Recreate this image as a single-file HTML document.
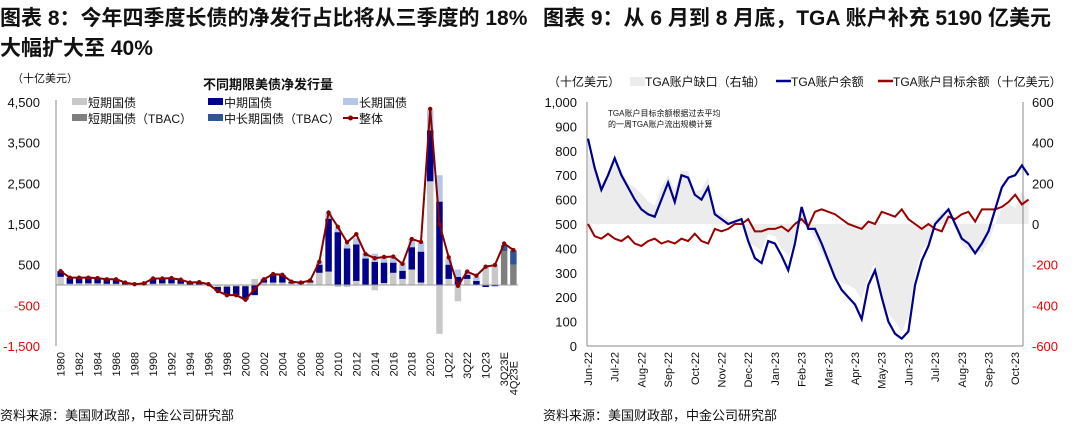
<!DOCTYPE html>
<html><head><meta charset="utf-8"><style>
body{margin:0;background:#fff;}
svg{display:block;font-family:"Liberation Sans","Noto Sans CJK SC",sans-serif;}
</style></head><body>
<svg id="s" width="1080" height="433" viewBox="0 0 1080 433">
<text x="0" y="25" font-size="21" font-weight="bold" fill="#111">图表 8：今年四季度长债的净发行占比将从三季度的 18%</text>
<text x="0" y="55" font-size="21" font-weight="bold" fill="#111">大幅扩大至 40%</text>
<text x="543" y="25" font-size="21" font-weight="bold" fill="#111">图表 9：从 6 月到 8 月底，TGA 账户补充 5190 亿美元</text>
<text x="0" y="420" font-size="13" fill="#111">资料来源：美国财政部，中金公司研究部</text>
<text x="543" y="420" font-size="13" fill="#111">资料来源：美国财政部，中金公司研究部</text>
<g id="left"></g>
<g id="right"></g>
</svg>
<script>
// ---------- Chart 8 data ----------
const cats8 = [];
for (let y=1980;y<=2021;y++) cats8.push(String(y));
cats8.push('1Q22','2Q22','3Q22','4Q22','1Q23','2Q23','3Q23E','4Q23E');
const bills = [200,30,40,40,40,30,30,10,-10,0,30,40,40,30,10,10,0,-50,-40,-30,-30,150,60,60,60,40,30,60,300,330,-50,-50,100,-20,-130,50,300,150,380,60,2550,-1200,150,-400,150,0,450,500,0,0];
const notes = [140,150,140,140,130,110,110,50,30,40,130,120,130,100,50,60,20,-100,-210,-220,-330,-250,80,210,190,40,30,50,200,1300,1300,900,900,650,570,500,250,200,550,760,1250,2050,350,200,100,100,-50,-30,0,0];
const longs = [0,0,0,0,0,0,0,0,0,0,0,0,0,0,0,0,0,0,0,0,0,0,0,0,0,0,0,0,70,150,100,100,150,130,200,150,150,200,200,230,500,650,150,180,80,100,0,0,0,0];
const tbacShort = [0,0,0,0,0,0,0,0,0,0,0,0,0,0,0,0,0,0,0,0,0,0,0,0,0,0,0,0,0,0,0,0,0,0,0,0,0,0,0,0,0,0,0,0,0,0,0,0,830,500];
const tbacLong = [0,0,0,0,0,0,0,0,0,0,0,0,0,0,0,0,0,0,0,0,0,0,0,0,0,0,0,0,0,0,0,0,0,0,0,0,0,0,0,0,0,0,0,0,0,0,0,0,150,350];
const total8 = [340,180,180,180,170,140,140,60,20,40,160,160,170,130,60,70,20,-150,-250,-250,-360,-100,140,270,250,80,60,110,570,1780,1430,1050,1250,760,660,690,700,520,1130,1060,4330,1500,680,-20,330,230,450,490,1020,860];
const yTicks8 = [4500,3500,2500,1500,500,-500,-1500];
const yTickLabels8 = ['4,500','3,500','2,500','1,500','500','-500','-1,500'];

// ---------- Chart 9 data ----------
const months9 = ['Jun-22','Jul-22','Aug-22','Sep-22','Oct-22','Nov-22','Dec-22','Jan-23','Feb-23','Mar-23','Apr-23','May-23','Jun-23','Jul-23','Aug-23','Sep-23','Oct-23'];
const balance9 = [850,730,640,700, 770,700,650,600, 560,540,530,600, 670,590,700,690, 620,600,650,540, 520,500,510,520, 430,360,340,430, 420,370,310,420, 570,480,480,420, 350,280,230,200, 170,110,250,310, 200,100,50,30, 60,250,350,410, 500,530,560,500, 440,420,380,420, 470,560,650,690, 700,740,700];
const target9 = [500,450,440,460, 440,430,450,420, 410,430,440,420, 430,420,440,430, 460,430,420,480, 470,480,500,500, 520,470,470,480, 480,490,470,500, 520,490,550,560, 550,540,520,500, 490,480,510,500, 550,540,530,560, 520,500,480,500, 480,470,530,520, 540,550,510,560, 560,560,570,590, 620,580,600];
const gap9 = [350,280,200,240, 330,270,200,180, 150,110,90,180, 240,170,260,260, 160,170,230,60, 50,20,10,20, -90,-110,-130,-50, -60,-120,-160,-80, 50,-10,-70,-140, -200,-260,-290,-300, -320,-370,-260,-190, -350,-440,-480,-530, -460,-250,-130,-90, 20,60,30,-20, -100,-130,-130,-140, -90,0,80,100, 80,160,100];
const yTicksL9 = [0,100,200,300,400,500,600,700,800,900,1000];
const yTickLabelsL9 = ['0','100','200','300','400','500','600','700','800','900','1,000'];
const yTicksR9 = [600,400,200,0,-200,-400,-600];

const NS='http://www.w3.org/2000/svg';
function mk(parent,tag,attrs){const e=document.createElementNS(NS,tag);for(const k in attrs)e.setAttribute(k,attrs[k]);parent.appendChild(e);return e;}

// ---------- draw chart 8 ----------
(function(){
const g=document.getElementById('left');
const x0=56,x1=518,yTop=102,yBot=346;
const y=v=>yTop+(4500-v)/6000*(yBot-yTop);
const bw=(x1-x0)/cats8.length;
const xc=i=>x0+bw*(i+0.5);
yTicks8.forEach((t,i)=>{
  const tx=mk(g,'text',{x:40,y:y(t)+5,'font-size':13,'text-anchor':'end',fill:t<0?'#e00':'#111'});
  tx.textContent=yTickLabels8[i];
  
  
});
const ax=mk(g,'line',{x1:x0,y1:yTop-2,x2:x0,y2:yBot,stroke:'#888','stroke-width':1});


const series=[[bills,'#c8c8c8'],[notes,'#00008b'],[longs,'#b4c7e7'],[tbacShort,'#7f7f7f'],[tbacLong,'#2f5597']];
cats8.forEach((c,i)=>{
  let pos=0,neg=0;
  series.forEach(([arr,col])=>{
    const v=arr[i]; if(!v) return;
    let a,b;
    if(v>0){a=pos;b=pos+v;pos=b;}else{a=neg+v;b=neg;neg=a;}
    const r=mk(g,'rect',{x:xc(i)-bw*0.35,y:y(b),width:bw*0.7,height:Math.max(0.5,y(a)-y(b)),fill:col});
    
    
  });
  if(i%2===0||i===cats8.length-1){
    const tx=mk(g,'text',{x:0,y:0,'font-size':11,'text-anchor':'end',fill:'#111',transform:`translate(${xc(i)+4},${i===cats8.length-1?361:352}) rotate(-90)`});
    tx.textContent=c;
    
    
  }
});
const zl=mk(g,'line',{x1:x0,y1:y(0),x2:x1,y2:y(0),stroke:'#999','stroke-width':1});


const pl=mk(g,'polyline',{points:total8.map((v,i)=>xc(i)+','+y(v)).join(' '),fill:'none',stroke:'#8b0000','stroke-width':2});


total8.forEach((v,i)=>{
  const c=mk(g,'circle',{cx:xc(i),cy:y(v),r:2.2,fill:'#8b0000'});
  
  
});
const u=mk(g,'text',{x:12,y:82,'font-size':11,fill:'#111'});u.textContent='（十亿美元）';


const t=mk(g,'text',{x:268,y:89,'font-size':13,'font-weight':'bold','text-anchor':'middle',fill:'#111'});t.textContent='不同期限美债净发行量';


const leg=[['短期国债','#c8c8c8',72,102,0],['中期国债','#00008b',208,102,0],['长期国债','#b4c7e7',343,102,0],['短期国债（TBAC）','#7f7f7f',72,118,0],['中长期国债（TBAC）','#2f5597',208,118,0],['整体','#8b0000',343,118,1]];
leg.forEach(([n,col,lx,ly,isLine])=>{
  if(isLine){mk(g,'line',{x1:lx,y1:ly,x2:lx+15,y2:ly,stroke:col,'stroke-width':2});mk(g,'circle',{cx:lx+7.5,cy:ly,r:2.5,fill:col});}
  else mk(g,'rect',{x:lx,y:ly-4,width:15,height:7,fill:col});
  const tx=mk(g,'text',{x:lx+16,y:ly+5,'font-size':12,fill:'#111'});tx.textContent=n;
  
  
});
})();

// ---------- draw chart 9 ----------
(function(){
const g=document.getElementById('right');
const x0=587,x1=1023,yTop=102,yBot=346;
const yL=v=>yBot-v/1000*(yBot-yTop);
const yR=v=>yBot-(v+600)/1200*(yBot-yTop);
const mw=26.7, mStart=588;
const n=balance9.length;
const xi=i=>mStart+i*(mw/4);
let d='M'+xi(0)+','+yR(0);
gap9.forEach((v,i)=>{d+=' L'+xi(i)+','+yR(v);});
d+=' L'+xi(n-1)+','+yR(0)+' Z';
const ar=mk(g,'path',{d:d,fill:'#ececec',stroke:'none'});


const a1=mk(g,'line',{x1:x0,y1:yTop,x2:x0,y2:yBot,stroke:'#888'});


const a2=mk(g,'line',{x1:x1,y1:yTop,x2:x1,y2:yBot,stroke:'#888'});


const a3=mk(g,'line',{x1:x0,y1:yBot,x2:x1,y2:yBot,stroke:'#888'});


yTicksL9.forEach((t,i)=>{
  const tx=mk(g,'text',{x:577,y:yL(t)+5,'font-size':13,'text-anchor':'end',fill:'#111'});tx.textContent=yTickLabelsL9[i];
  
  
});
yTicksR9.forEach(t=>{
  const tx=mk(g,'text',{x:1032,y:yR(t)+5,'font-size':13,fill:t<0?'#e00':'#111'});tx.textContent=String(t);
  
  
});
months9.forEach((m,i)=>{
  const tx=mk(g,'text',{x:0,y:0,'font-size':11,'text-anchor':'end',fill:'#111',transform:`translate(${mStart+i*mw+4},352) rotate(-90)`});tx.textContent=m;
  
  
});
const tl=mk(g,'polyline',{points:target9.map((v,i)=>xi(i)+','+yL(v)).join(' '),fill:'none',stroke:'#9b0000','stroke-width':2});


const bl=mk(g,'polyline',{points:balance9.map((v,i)=>xi(i)+','+yL(v)).join(' '),fill:'none',stroke:'#00008b','stroke-width':2.2});


const u=mk(g,'text',{x:548,y:86,'font-size':12,fill:'#111'});u.textContent='（十亿美元）';


const leg=[['TGA账户缺口（右轴）','#ececec',630,'rect'],['TGA账户余额','#00008b',776,'line'],['TGA账户目标余额（十亿美元）','#9b0000',878,'line']];
leg.forEach(([nm,col,lx,kind])=>{
  if(kind==='rect') mk(g,'rect',{x:lx,y:77,width:15,height:9,fill:col});
  else mk(g,'line',{x1:lx,y1:81,x2:lx+15,y2:81,stroke:col,'stroke-width':2.5});
  const tx=mk(g,'text',{x:lx+15,y:86,'font-size':12,fill:'#111'});tx.textContent=nm;
  
  
});
const n1=mk(g,'text',{x:608,y:116,'font-size':8,fill:'#111'});n1.textContent='TGA账户目标余额根据过去平均';


const n2=mk(g,'text',{x:608,y:127,'font-size':8,fill:'#111'});n2.textContent='的一周TGA账户流出规模计算';


})();
</script>
</body></html>
